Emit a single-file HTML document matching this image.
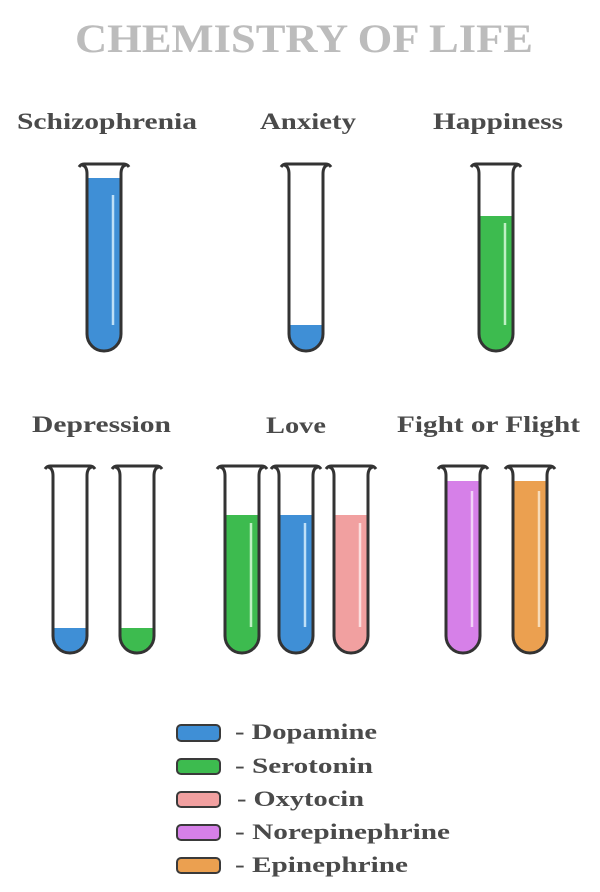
<!DOCTYPE html>
<html><head><meta charset="utf-8"><style>
html,body{margin:0;padding:0;background:#fff;}
svg{display:block;}
text{font-family:"Liberation Serif",serif;font-weight:bold;}
</style></head><body>
<svg width="600" height="892" viewBox="0 0 600 892" xmlns="http://www.w3.org/2000/svg">
<defs>
<g id="tube">
  <path d="M-25,2 Q-23,-1 -20,-1 L20,-1 Q23,-1 25,2 M-22,0 Q-17,1 -17,9 L-17,169 A17,17 0 0 0 17,169 L17,9 Q17,1 22,0" fill="none" stroke="#333" stroke-width="3" stroke-linejoin="round"/>
</g>
</defs>
<text x="75" y="52" font-size="40" fill="#bcbcbc" textLength="458" lengthAdjust="spacingAndGlyphs">CHEMISTRY OF LIFE</text>
<g font-size="23" fill="#4a4a4a">
<text x="17" y="129" textLength="180" lengthAdjust="spacingAndGlyphs">Schizophrenia</text>
<text x="260" y="129" textLength="96" lengthAdjust="spacingAndGlyphs">Anxiety</text>
<text x="433" y="129" textLength="130" lengthAdjust="spacingAndGlyphs">Happiness</text>
<text x="32" y="432" textLength="139" lengthAdjust="spacingAndGlyphs">Depression</text>
<text x="266" y="433" textLength="60" lengthAdjust="spacingAndGlyphs">Love</text>
<text x="397" y="432" textLength="183" lengthAdjust="spacingAndGlyphs">Fight or Flight</text>
</g>
<g transform="translate(104,165)">
  <path d="M-16,13 L-16,169 A16,16 0 0 0 16,169 L16,13 Z" fill="#3f8fd6"/>
  <line x1="9" y1="30" x2="9" y2="160" stroke="#bfe0f7" stroke-width="2.5"/>
  <use href="#tube"/>
</g>
<g transform="translate(306,165)">
  <path d="M-16,160 L-16,169 A16,16 0 0 0 16,169 L16,160 Z" fill="#3f8fd6"/>
  <use href="#tube"/>
</g>
<g transform="translate(496,165)">
  <path d="M-16,51 L-16,169 A16,16 0 0 0 16,169 L16,51 Z" fill="#3dbb4f"/>
  <line x1="9" y1="58" x2="9" y2="160" stroke="#bff0c4" stroke-width="2.5"/>
  <use href="#tube"/>
</g>
<g transform="translate(70,467)">
  <path d="M-16,161 L-16,169 A16,16 0 0 0 16,169 L16,161 Z" fill="#3f8fd6"/>
  <use href="#tube"/>
</g>
<g transform="translate(137,467)">
  <path d="M-16,161 L-16,169 A16,16 0 0 0 16,169 L16,161 Z" fill="#3dbb4f"/>
  <use href="#tube"/>
</g>
<g transform="translate(242,467)">
  <path d="M-16,48 L-16,169 A16,16 0 0 0 16,169 L16,48 Z" fill="#3dbb4f"/>
  <line x1="9" y1="56" x2="9" y2="160" stroke="#bff0c4" stroke-width="2.5"/>
  <use href="#tube"/>
</g>
<g transform="translate(296,467)">
  <path d="M-16,48 L-16,169 A16,16 0 0 0 16,169 L16,48 Z" fill="#3f8fd6"/>
  <line x1="9" y1="56" x2="9" y2="160" stroke="#bfe0f7" stroke-width="2.5"/>
  <use href="#tube"/>
</g>
<g transform="translate(351,467)">
  <path d="M-16,48 L-16,169 A16,16 0 0 0 16,169 L16,48 Z" fill="#f1a0a0"/>
  <line x1="9" y1="56" x2="9" y2="160" stroke="#fbdede" stroke-width="2.5"/>
  <use href="#tube"/>
</g>
<g transform="translate(463,467)">
  <path d="M-16,14 L-16,169 A16,16 0 0 0 16,169 L16,14 Z" fill="#d680e8"/>
  <line x1="9" y1="24" x2="9" y2="160" stroke="#f1d2f7" stroke-width="2.5"/>
  <use href="#tube"/>
</g>
<g transform="translate(530,467)">
  <path d="M-16,14 L-16,169 A16,16 0 0 0 16,169 L16,14 Z" fill="#eba050"/>
  <line x1="9" y1="24" x2="9" y2="160" stroke="#f8dbb8" stroke-width="2.5"/>
  <use href="#tube"/>
</g>
<g stroke="#3a3a3a" stroke-width="2">
<rect x="177" y="725" width="43" height="16" rx="4" fill="#3f8fd6"/>
<rect x="177" y="759" width="43" height="15" rx="4" fill="#3dbb4f"/>
<rect x="177" y="792" width="43" height="15" rx="4" fill="#f1a0a0"/>
<rect x="177" y="825" width="43" height="15" rx="4" fill="#d680e8"/>
<rect x="177" y="858" width="43" height="15" rx="4" fill="#eba050"/>
</g>
<g font-size="22" fill="#4a4a4a">
<text x="235" y="739" textLength="142" lengthAdjust="spacingAndGlyphs">- Dopamine</text>
<text x="235" y="773" textLength="138" lengthAdjust="spacingAndGlyphs">- Serotonin</text>
<text x="237" y="806" textLength="127" lengthAdjust="spacingAndGlyphs">- Oxytocin</text>
<text x="235" y="839" textLength="215" lengthAdjust="spacingAndGlyphs">- Norepinephrine</text>
<text x="235" y="872" textLength="173" lengthAdjust="spacingAndGlyphs">- Epinephrine</text>
</g>
</svg>
</body></html>
